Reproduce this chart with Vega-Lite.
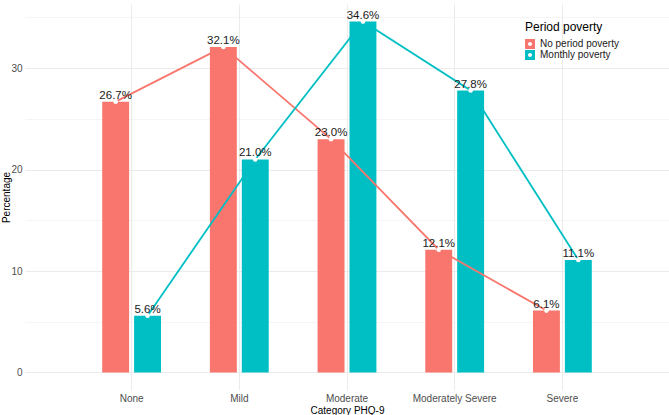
{
  "$schema": "https://vega.github.io/schema/vega-lite/v6.json",
  "width": 644,
  "height": 386,
  "autosize": {"type": "none"},
  "padding": {"left": 25, "top": 4, "right": 0, "bottom": 25},
  "config": {
    "font": "Liberation Sans",
    "view": {"stroke": null},
    "axis": {"domain": false, "ticks": false, "gridColor": "#EBEBEB", "labelColor": "#4D4D4D", "labelFontSize": 10, "titleFontSize": 10, "titleFontWeight": "normal", "titleColor": "#000000"}
  },
  "data": {
    "values": [
      {"category": "None", "group": "No period poverty", "pct": 26.7, "label": "26.7%"},
      {"category": "Mild", "group": "No period poverty", "pct": 32.1, "label": "32.1%"},
      {"category": "Moderate", "group": "No period poverty", "pct": 23.0, "label": "23.0%"},
      {"category": "Moderately Severe", "group": "No period poverty", "pct": 12.1, "label": "12.1%"},
      {"category": "Severe", "group": "No period poverty", "pct": 6.1, "label": "6.1%"},
      {"category": "None", "group": "Monthly poverty", "pct": 5.6, "label": "5.6%"},
      {"category": "Mild", "group": "Monthly poverty", "pct": 21.0, "label": "21.0%"},
      {"category": "Moderate", "group": "Monthly poverty", "pct": 34.6, "label": "34.6%"},
      {"category": "Moderately Severe", "group": "Monthly poverty", "pct": 27.8, "label": "27.8%"},
      {"category": "Severe", "group": "Monthly poverty", "pct": 11.1, "label": "11.1%"}
    ]
  },
  "encoding": {
    "x": {
      "field": "category", "type": "nominal",
      "sort": ["None", "Mild", "Moderate", "Moderately Severe", "Severe"],
      "scale": {"type": "band", "paddingInner": 0, "paddingOuter": 0.49},
      "axis": {"title": "Category PHQ-9", "labelAngle": 0, "grid": true, "labelPadding": 3, "titlePadding": 2}
    },
    "xOffset": {
      "field": "group", "type": "nominal",
      "sort": ["No period poverty", "Monthly poverty"],
      "scale": {"paddingInner": 0.156, "paddingOuter": 0.766}
    },
    "y": {
      "field": "pct", "type": "quantitative",
      "scale": {"domain": [-1.73, 36.33], "nice": false, "zero": false},
      "axis": {
        "title": "Percentage",
        "values": [0, 5, 10, 15, 20, 25, 30, 35],
        "labelExpr": "datum.value % 10 === 0 ? datum.label : ''",
        "gridWidth": {"condition": {"test": "datum.value % 10 === 0", "value": 1}, "value": 0.5},
        "labelPadding": 3,
        "titleX": -19,
        "titleBaseline": "middle"
      }
    },
    "color": {
      "field": "group", "type": "nominal",
      "sort": ["No period poverty", "Monthly poverty"],
      "scale": {"domain": ["No period poverty", "Monthly poverty"], "range": ["#F8766D", "#00BFC4"]},
      "legend": {
        "title": "Period poverty",
        "orient": "none",
        "legendX": 500,
        "legendY": 18,
        "padding": 0,
        "titleFontSize": 12,
        "titleFontWeight": "normal",
        "titleColor": "#000000",
        "titlePadding": 5,
        "labelFontSize": 10,
        "labelColor": "#1A1A1A",
        "labelOffset": 5,
        "rowPadding": 1,
        "symbolType": "M-1,-1H1V1H-1Z M0,-0.4A0.4,0.4 0 1,0 0,0.4A0.4,0.4 0 1,0 0,-0.4Z",
        "symbolSize": 100,
        "symbolStrokeWidth": 0,
        "symbolOpacity": 1
      }
    }
  },
  "layer": [
    {
      "mark": {"type": "bar", "opacity": 1},
      "encoding": {"y2": {"datum": 0}}
    },
    {
      "mark": {"type": "line", "strokeWidth": 1.8},
      "encoding": {"order": {"value": null}}
    },
    {
      "mark": {"type": "point", "filled": true, "fill": "#FFFFFF", "size": 22, "strokeWidth": 0, "opacity": 1},
      "encoding": {"color": {"value": "#FFFFFF"}}
    },
    {
      "mark": {"type": "text", "baseline": "alphabetic", "dy": -3, "fontSize": 11.5},
      "encoding": {"text": {"field": "label"}, "color": {"value": "#1A1A1A"}}
    }
  ]
}
